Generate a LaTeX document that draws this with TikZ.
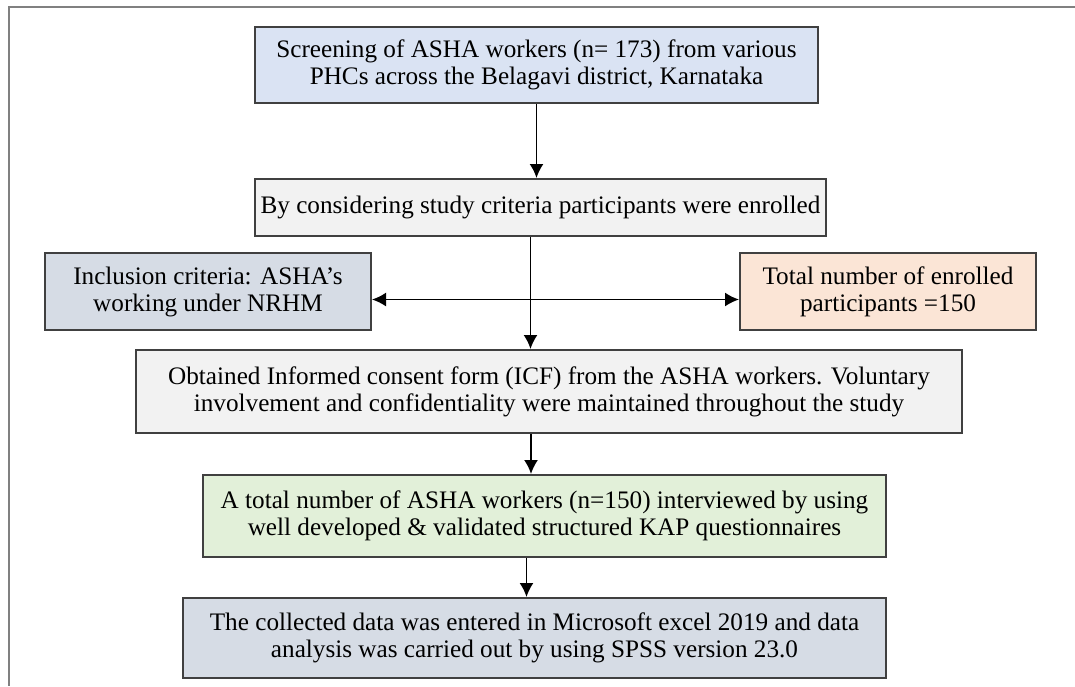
\documentclass[tikz,border=0pt]{standalone}
\usepackage{fontspec}
\setmainfont{Liberation Serif}
\usetikzlibrary{arrows.meta}
\definecolor{scrfill}{HTML}{DAE3F3}
\definecolor{grayfill}{HTML}{F2F2F2}
\definecolor{slatefill}{HTML}{D6DCE5}
\definecolor{peachfill}{HTML}{FBE5D6}
\definecolor{greenfill}{HTML}{E2F0D9}
\definecolor{edge}{HTML}{404040}
\begin{document}
\begin{tikzpicture}[x=0.5pt,y=-0.5pt,
  box/.style={draw=edge,line width=1pt,align=center,inner sep=0pt,
    font=\fontsize{12.6}{13.5}\selectfont},
  flow/.style={line width=0.9pt,-{Latex[length=7pt,width=7pt]}},
  both/.style={line width=0.9pt,{Latex[length=7pt,width=7pt]}-{Latex[length=7pt,width=7pt]}}]
 \useasboundingbox (0,0) rectangle (1075,686);
 \draw[gray,line width=1pt] (1075,7) -- (9,7) -- (9,686);
 \node[box,fill=scrfill,minimum width=281.5pt,minimum height=38pt] at (536.5, 65)  (screen)    {Screening of ASHA workers (n= 173) from various\\PHCs across the Belagavi district, Karnataka};
 \node[box,fill=grayfill,minimum width=285.5pt,minimum height=28.5pt] at (540.5, 207.5)  (criteria)    {By considering study criteria participants were enrolled};
 \node[box,fill=slatefill,minimum width=163pt,minimum height=38.5pt] at (208, 291.5)  (incl)    {Inclusion criteria: ASHA’s\\working under NRHM};
 \node[box,fill=peachfill,minimum width=148pt,minimum height=38.5pt] at (888, 291.5)  (enrol)    {Total number of enrolled\\participants =150};
 \node[box,fill=grayfill,minimum width=413pt,minimum height=41.5pt] at (549, 391.5)  (icf)    {Obtained Informed consent form (ICF) from the ASHA workers. Voluntary\\involvement and confidentiality were maintained throughout the study};
 \node[box,fill=greenfill,minimum width=341.5pt,minimum height=41pt] at (544.5, 516)  (interview)    {A total number of ASHA workers (n=150) interviewed by using\\well developed \& validated structured KAP questionnaires};
 \node[box,fill=slatefill,minimum width=351.5pt,minimum height=40pt] at (534.5, 638)  (analysis)    {The collected data was entered in Microsoft excel 2019 and data\\analysis was carried out by using SPSS version 23.0};

 \draw [flow]  (screen.south)--(screen.south |- criteria.north);
 \draw [flow]  ([xshift=-5pt]criteria.south)--([xshift=-5pt]criteria.south |- icf.north);
 \draw [both]  ([yshift=-4pt]incl.east)--([yshift=-4pt]enrol.west);
 \draw [flow]  ([xshift=-9pt]icf.south)--([xshift=-9pt]icf.south |- interview.north);
 \draw [flow]  ([xshift=-9pt]interview.south)--([xshift=-9pt]interview.south |- analysis.north);
\end{tikzpicture}
\end{document}
